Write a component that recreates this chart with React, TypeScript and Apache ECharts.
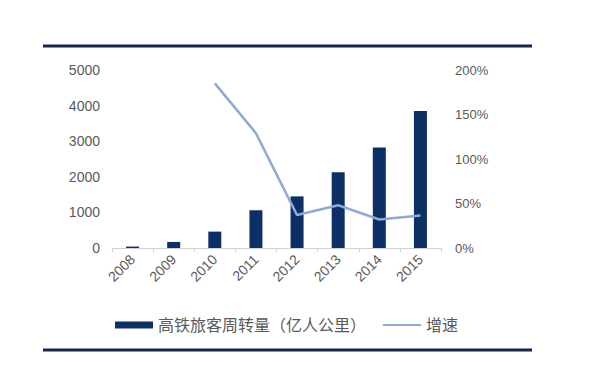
import React, { useEffect, useRef } from "react";
import * as echarts from "echarts";

const years = ["2008", "2009", "2010", "2011", "2012", "2013", "2014", "2015"];
const volume = [40, 170, 460, 1060, 1450, 2130, 2820, 3850];
const growth = [null, null, 185, 129, 37, 48, 32, 36.5];
const leftTicks = [0, 1000, 2000, 3000, 4000, 5000];
const rightTicks = [0, 50, 100, 150, 200];

const barName = "高铁旅客周转量（亿人公里）";
const lineName = "增速";

export default function App() {
  const ref = useRef<HTMLDivElement>(null);
  useEffect(() => {
    const chart = echarts.init(ref.current!, null, { renderer: "svg" });
    const font = "Arial, 'Liberation Sans', 'Noto Sans CJK SC', sans-serif";
    chart.setOption({
      animation: false,
      backgroundColor: "#ffffff",
      textStyle: { fontFamily: font },
      grid: { left: 112, right: 153, top: 70, bottom: 121, containLabel: false },
      legend: {
        left: 110,
        top: 312,
        itemWidth: 38,
        itemHeight: 7,
        itemGap: 16,
        itemTextGap: 5,
        textStyle: { color: "#595959", fontSize: 16, fontFamily: font },
        data: [
          { name: barName, icon: "rect" },
          { name: lineName, itemStyle: { opacity: 0 }, lineStyle: { width: 2, color: "#8eaad3" } },
        ],
      },
      xAxis: {
        type: "category",
        data: years,
        axisLine: { lineStyle: { color: "#d0d0d0", width: 1 } },
        axisTick: { show: true, length: 4, lineStyle: { color: "#d0d0d0" } },
        axisLabel: { rotate: 45, color: "#595959", fontSize: 14, margin: 9 },
      },
      yAxis: [
        {
          type: "value",
          min: leftTicks[0],
          max: leftTicks[leftTicks.length - 1],
          interval: 1000,
          splitLine: { show: false },
          axisLine: { show: false },
          axisTick: { show: false },
          axisLabel: { color: "#595959", fontSize: 14, margin: 12, formatter: (v: number) => String(v) },
        },
        {
          type: "value",
          min: rightTicks[0],
          max: rightTicks[rightTicks.length - 1],
          interval: 50,
          splitLine: { show: false },
          axisLine: { show: false },
          axisTick: { show: false },
          axisLabel: { color: "#595959", fontSize: 13, margin: 14, formatter: "{value}%" },
        },
      ],
      series: [
        {
          name: barName,
          type: "bar",
          data: volume,
          barWidth: 13,
          itemStyle: { color: "#0c2f66" },
        },
        {
          name: lineName,
          type: "line",
          yAxisIndex: 1,
          data: growth,
          symbol: "none",
          showSymbol: false,
          lineStyle: { color: "#8eaad3", width: 2.5 },
          itemStyle: { color: "#8eaad3" },
        },
      ],
      graphic: [
        {
          type: "line",
          shape: { x1: 43, y1: 46, x2: 532, y2: 46 },
          style: { stroke: "#14294f", lineWidth: 3 },
        },
        {
          type: "line",
          shape: { x1: 43, y1: 350, x2: 532, y2: 350 },
          style: { stroke: "#14294f", lineWidth: 3 },
        },
      ],
    });
    return () => chart.dispose();
  }, []);
  return <div ref={ref} style={{ width: 594, height: 369, position: "absolute", left: 0, top: 0 }} />;
}
